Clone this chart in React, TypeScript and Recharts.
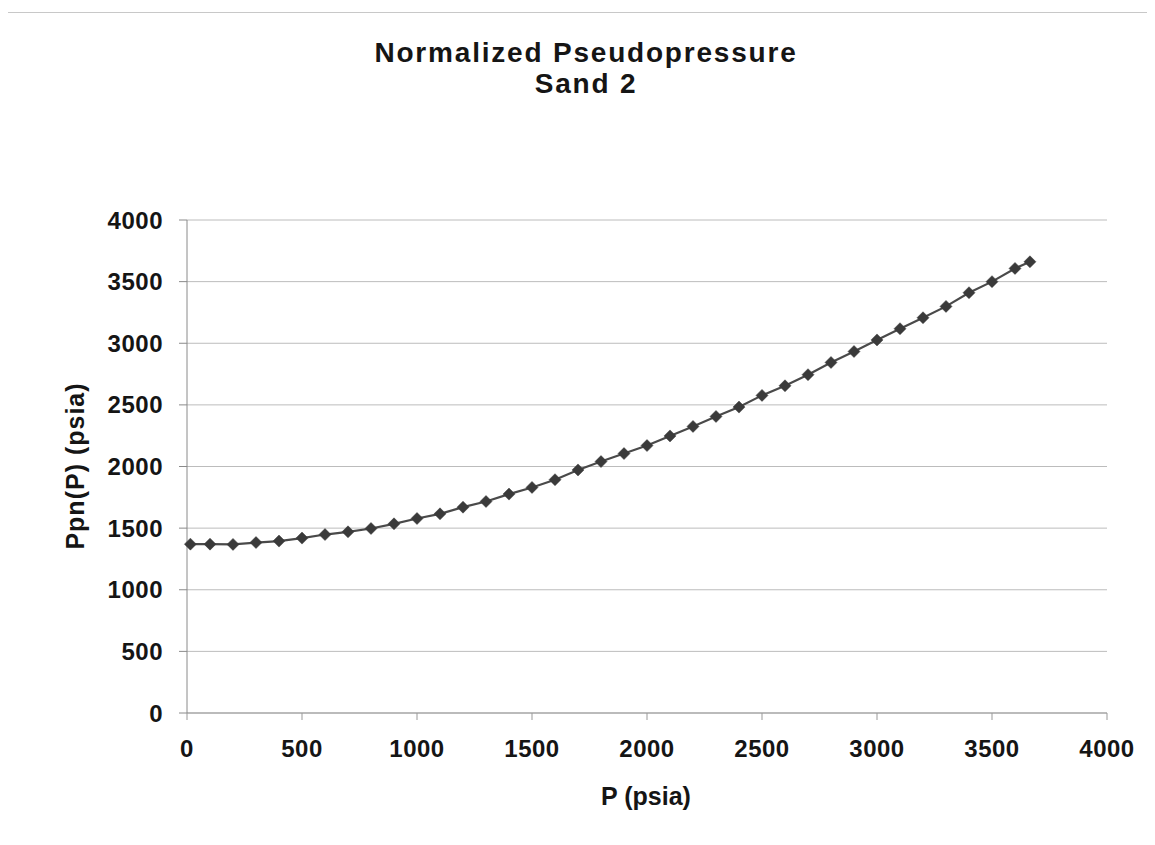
import React from 'react';
import {
    LineChart,
    Line,
    XAxis,
    YAxis,
    CartesianGrid,
} from 'recharts';

// Pressure (psia)
const pressure = [
    14.7, 100, 200, 300, 400, 500, 600, 700, 800, 900, 1000, 1100, 1200, 1300,
    1400, 1500, 1600, 1700, 1800, 1900, 2000, 2100, 2200, 2300, 2400, 2500,
    2600, 2700, 2800, 2900, 3000, 3100, 3200, 3300, 3400, 3500, 3600, 3665,
];

// Normalized pseudopressure Ppn(P) (psia)
const ppn = [
    1370, 1370, 1368, 1383, 1395, 1419, 1448, 1470, 1497, 1535, 1578, 1616, 1670,
    1716, 1776, 1830, 1893, 1972, 2040, 2105, 2170, 2248, 2325, 2406, 2482, 2577,
    2655, 2745, 2844, 2933, 3027, 3118, 3207, 3299, 3410, 3500, 3607, 3661,
];

const xTicks = [0, 500, 1000, 1500, 2000, 2500, 3000, 3500, 4000];
const yTicks = [0, 500, 1000, 1500, 2000, 2500, 3000, 3500, 4000];

const data = pressure.map((p, i) => ({ p, ppn: ppn[i] }));

const FONT = '"Liberation Sans", Arial, sans-serif';

const Diamond = (props: any) => {
    const { cx, cy } = props;
    if (cx == null || cy == null) return null;
    const r = 6;
    return (
        <polygon
            points={`${cx},${cy - r} ${cx + r},${cy} ${cx},${cy + r} ${cx - r},${cy}`}
            fill="#3a3a3a"
            stroke="#3a3a3a"
            strokeWidth={0.5}
        />
    );
};

const App: React.FC = () => {
    const tickStyle = { fontSize: 24, fontWeight: 700, fill: '#151515', fontFamily: FONT, letterSpacing: 0.5 };

    return (
        <div style={{ position: 'relative', width: 1139, height: 829, fontFamily: FONT }}>
            {/* faint frame of the scanned chart */}
            <div
                style={{
                    position: 'absolute',
                    left: -1,
                    top: 4,
                    width: 1140,
                    height: 825,
                    borderTop: '1px solid #c8c8c8',
                    borderLeft: '1px solid #d0d0d0',
                    boxSizing: 'border-box',
                }}
            />

            <LineChart
                width={1139}
                height={829}
                data={data}
                margin={{ top: 212, right: 40, left: 79, bottom: 64 }}
            >
                <CartesianGrid vertical={false} stroke="#bcbcbc" />

                <XAxis
                    type="number"
                    dataKey="p"
                    domain={[0, 4000]}
                    ticks={xTicks}
                    interval={0}
                    height={60}
                    tick={tickStyle}
                    tickSize={7}
                    tickMargin={20}
                    stroke="#999"
                />

                <YAxis
                    type="number"
                    domain={[0, 4000]}
                    ticks={yTicks}
                    interval={0}
                    width={100}
                    tick={tickStyle}
                    tickSize={8}
                    tickMargin={16}
                    stroke="#8a8a8a"
                />

                <Line
                    type="linear"
                    dataKey="ppn"
                    stroke="#4a4a4a"
                    strokeWidth={2.2}
                    dot={<Diamond />}
                    activeDot={false}
                    isAnimationActive={false}
                />
            </LineChart>

            {/* titles */}
            <svg
                width={1139}
                height={829}
                style={{ position: 'absolute', left: 0, top: 0, pointerEvents: 'none' }}
            >
                <g fontFamily={FONT} fontWeight={700} fill="#151515">
                    <text x={578} y={54} textAnchor="middle" fontSize={28} letterSpacing={1.8}>
                        Normalized Pseudopressure
                    </text>
                    <text x={578} y={85} textAnchor="middle" fontSize={28} letterSpacing={1.8}>
                        Sand 2
                    </text>
                    <text x={638} y={797} textAnchor="middle" fontSize={25}>
                        P (psia)
                    </text>
                    <text
                        x={76}
                        y={458}
                        textAnchor="middle"
                        fontSize={25}
                        letterSpacing={1}
                        transform="rotate(-90 76 458)"
                    >
                        Ppn(P) (psia)
                    </text>
                </g>
            </svg>
        </div>
    );
};

export default App;
